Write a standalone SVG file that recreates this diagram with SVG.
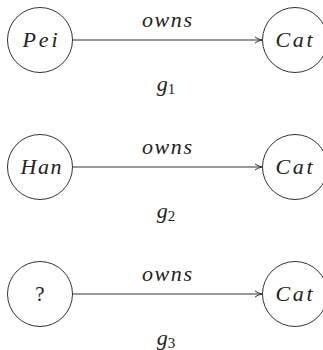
<svg xmlns="http://www.w3.org/2000/svg" width="323" height="350" viewBox="0 0 323 350">
<defs>
<style>
.node circle{fill:#fff;stroke:#333;stroke-width:1}
.t{font-family:"Liberation Serif",serif;font-style:italic;font-size:22px;fill:#222;text-anchor:middle}
.u{font-family:"Liberation Serif",serif;font-size:21px;fill:#222;text-anchor:middle}
.sub{font-size:15px;font-style:normal}
.edge{stroke:#333;stroke-width:1;fill:none;marker-end:url(#arr)}
</style>
<marker id="arr" markerWidth="10" markerHeight="8" refX="8" refY="4" orient="auto" markerUnits="userSpaceOnUse">
<path d="M1,1 Q4,3.2 8,4 Q4,4.8 1,7" fill="none" stroke="#333" stroke-width="1"/>
</marker>
</defs>
<g id="connectors">
<line class="edge" x1="73" y1="40" x2="262" y2="40"/>
<line class="edge" x1="73" y1="167" x2="262" y2="167"/>
<line class="edge" x1="73" y1="294" x2="262" y2="294"/>
<text class="t" x="167" y="27" textLength="50" lengthAdjust="spacing">owns</text>
<text class="t" x="167" y="154" textLength="50" lengthAdjust="spacing">owns</text>
<text class="t" x="167" y="281" textLength="50" lengthAdjust="spacing">owns</text>
</g>
<g id="pei" class="node"><circle cx="40" cy="40" r="32.5"/><text class="t" x="40" y="47" textLength="35" lengthAdjust="spacing">Pei</text></g>
<g id="cat1" class="node"><circle cx="295" cy="40" r="32.5"/><text class="t" x="294" y="47" textLength="37" lengthAdjust="spacing">Cat</text></g>
<g id="g1"><text class="t" x="166" y="91">g<tspan class="sub" dy="3">1</tspan></text></g>
<g id="han" class="node"><circle cx="40" cy="167" r="32.5"/><text class="t" x="41" y="174" textLength="41" lengthAdjust="spacing">Han</text></g>
<g id="cat2" class="node"><circle cx="295" cy="167" r="32.5"/><text class="t" x="294" y="174" textLength="37" lengthAdjust="spacing">Cat</text></g>
<g id="g2"><text class="t" x="166" y="218">g<tspan class="sub" dy="3">2</tspan></text></g>
<g id="unknown" class="node"><circle cx="40" cy="294" r="32.5"/><text class="u" x="40" y="301">?</text></g>
<g id="cat3" class="node"><circle cx="295" cy="294" r="32.5"/><text class="t" x="294" y="301" textLength="37" lengthAdjust="spacing">Cat</text></g>
<g id="g3"><text class="t" x="166" y="345">g<tspan class="sub" dy="3">3</tspan></text></g>
</svg>
